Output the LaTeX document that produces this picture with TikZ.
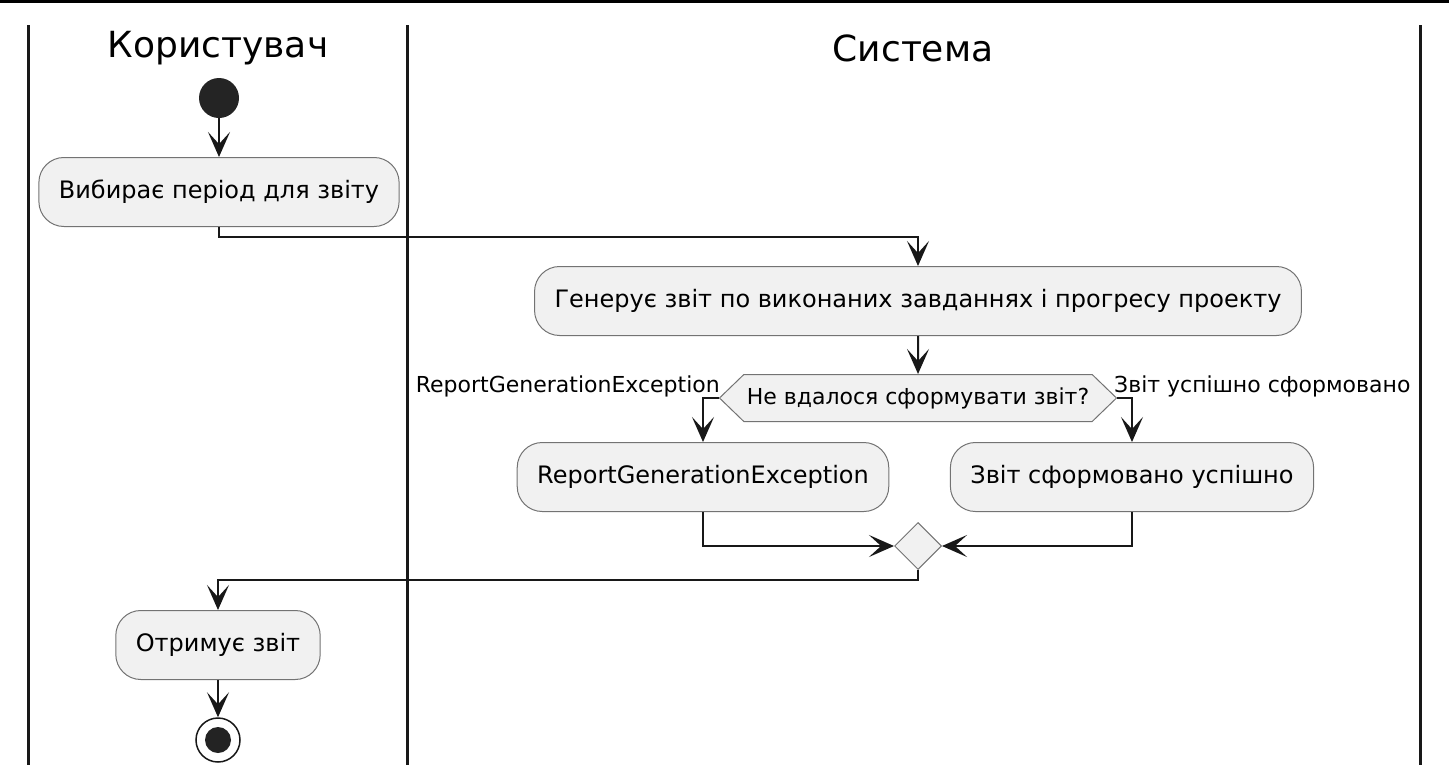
\documentclass[tikz,border=0pt]{standalone}
\usepackage{fontspec}
\setmainfont{DejaVu Sans}
\usetikzlibrary{arrows.meta,shapes.geometric,shapes.symbols}
\definecolor{boxfill}{HTML}{F1F1F1}
\definecolor{ink}{HTML}{181818}
\tikzset{
  action/.style={draw=black!55, line width=1pt, fill=boxfill, rounded corners=25pt,
    minimum height=69pt, inner xsep=20pt, font=\fontsize{24}{29}\selectfont},
  decision/.style={draw=black!55, line width=1pt, fill=boxfill, signal, signal to=west and east,
    signal pointer angle=88, minimum height=47pt, inner xsep=3pt, font=\fontsize{22}{26}\selectfont},
  lbl/.style={inner sep=0pt, font=\fontsize{22}{26}\selectfont},
  lane/.style={line width=3pt, ink},
  flow/.style={line width=2pt, ink, -{Stealth[length=25pt,width=22pt,inset=12pt]}},
}
\begin{document}
\begin{tikzpicture}[x=1pt,y=-1pt]
\useasboundingbox (0,0) rectangle (1449,782);

% --- Доріжки ---
\fill[black] (0,0) rectangle (1449,3);
\draw[lane] (28,25) -- (28,765);
\draw[lane] (407,25) -- (407,765);
\draw[lane] (1420,25) -- (1420,765);
\node[font=\fontsize{36}{42}\selectfont] (laneuser) at (218,48) {Користувач};
\node[font=\fontsize{36}{42}\selectfont] (lanesys) at (913,48) {Система};

% --- Вузли ---
\node[circle, fill=ink!95, minimum size=40pt, inner sep=0pt] (start) at (219,98) {};
\node[action] (pick) at (219,192) {Вибирає період для звіту};
\node[action] (generate) at (918,301) {Генерує звіт по виконаних завданнях і прогресу проекту};
\node[decision] (check) at (918,398) {Не вдалося сформувати звіт?};
\node[action] (fail) at (703,477) {ReportGenerationException};
\node[action] (ok) at (1132,477) {Звіт сформовано успішно};
\node[diamond, draw=black!55, line width=1pt, fill=boxfill, minimum size=47pt, inner sep=0pt] (merge) at (918,546) {};
\node[action] (receive) at (218,645) {Отримує звіт};
\node[circle, draw=ink, line width=1.5pt, fill=white, minimum size=44pt, inner sep=0pt] (stop) at (218,740) {};
\fill[ink!95] (stop.center) circle (13pt);

% --- Мітки гілок ---
\node[lbl, anchor=base east] (failtxt) at (720,392) {ReportGenerationException};
\node[lbl, anchor=base west] (oktxt) at (1114,392) {Звіт успішно сформовано};

% --- Переходи ---
\draw[flow] (start) -- (pick);
\draw[flow] (pick.south) -- ++(0,10) -| (generate.north);
\draw[flow] (generate) -- (check);
\draw[flow] (check.west) -| (fail.north);
\draw[flow] (check.east) -| (ok.north);
\draw[flow] (fail.south) |- (merge.west);
\draw[flow] (ok.south) |- (merge.east);
\draw[flow] (merge.south) -- ++(0,10) -| (receive.north);
\draw[flow] (receive) -- (stop);

\end{tikzpicture}
\end{document}
